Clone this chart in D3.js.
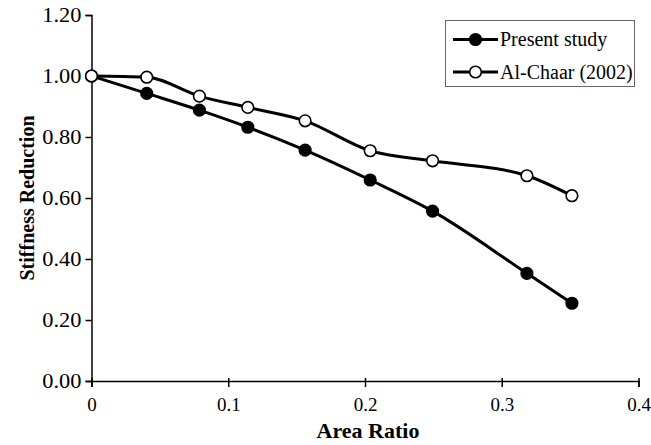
<!DOCTYPE html>
<html><head><meta charset="utf-8">
<script src="https://cdn.jsdelivr.net/npm/d3@7"></script>
<style>body{margin:0;background:#fff}svg{display:block}text{font-family:"Liberation Serif","Times New Roman",serif;fill:#000}</style>
</head><body>
<svg id="c" width="651" height="445"></svg>
<script>
const areaRatio = [0, 0.0404, 0.0789, 0.1143, 0.1562, 0.2038, 0.2494, 0.3184, 0.3513];
const presentStudy = [1.00, 0.943, 0.888, 0.832, 0.757, 0.659, 0.557, 0.353, 0.255];
const alChaar = [1.00, 0.996, 0.934, 0.897, 0.853, 0.755, 0.722, 0.673, 0.6075];
const xTicks = [0, 0.1, 0.2, 0.3, 0.4];
const yTicks = [0, 0.2, 0.4, 0.6, 0.8, 1.0, 1.2];
const seriesNames = ["Present study", "Al-Chaar (2002)"];

const svg = d3.select("#c");
const x = d3.scaleLinear().domain([0, 0.4]).range([91.5, 638.5]);
const y = d3.scaleLinear().domain([0, 1.2]).range([381, 15]);

const xAxis = svg.append("g").attr("transform", "translate(0,381)")
  .call(d3.axisBottom(x).tickValues(xTicks).tickSize(6).tickFormat(d => d === 0 ? "0" : d3.format(".1f")(d)));
const yAxis = svg.append("g").attr("transform", "translate(91.5,0)")
  .call(d3.axisLeft(y).tickValues(yTicks).tickSize(6).tickFormat(d3.format(".2f")));
[xAxis, yAxis].forEach(g => {
  g.attr("font-family", null);
  g.select(".domain").attr("stroke", "#000").attr("stroke-width", 1.5);
  g.selectAll(".tick line").attr("stroke", "#000").attr("stroke-width", 1.5);
  g.selectAll(".tick text").attr("fill", "#000");
});
xAxis.selectAll(".tick line").attr("y1", -3).attr("y2", 6);
xAxis.selectAll(".tick text").attr("dy", null).attr("y", 30).style("font-size", "19px");
yAxis.selectAll(".tick text").attr("x", -9).attr("transform", "scale(1.12,1)").style("font-size", "20px");

svg.append("text").attr("x", 368).attr("y", 438).attr("text-anchor", "middle")
  .style("font-size", "22px").attr("font-weight", "bold").text("Area Ratio");
svg.append("text").attr("transform", "translate(34,198) rotate(-90)").attr("text-anchor", "middle")
  .style("font-size", "20px").attr("font-weight", "bold").text("Stiffness Reduction");

const line = d3.line().x(d => x(d[0])).y(d => y(d[1])).curve(d3.curveMonotoneX);
const series = [presentStudy, alChaar];
series.forEach((vals, i) => {
  const pts = areaRatio.map((a, j) => [a, vals[j]]);
  svg.append("path").datum(pts).attr("d", line).attr("fill", "none").attr("stroke", "#000").attr("stroke-width", 3);
});
series.forEach((vals, i) => {
  const pts = areaRatio.map((a, j) => [a, vals[j]]);
  svg.append("g").selectAll("circle").data(pts).join("circle")
    .attr("cx", d => x(d[0])).attr("cy", d => y(d[1])).attr("r", 5.8)
    .attr("fill", i === 0 ? "#000" : "#fff").attr("stroke", "#000").attr("stroke-width", 1.6);
});

// legend
const lg = svg.append("g");
lg.append("rect").attr("x", 445.5).attr("y", 20.5).attr("width", 189).attr("height", 66)
  .attr("fill", "#fff").attr("stroke", "#666").attr("stroke-width", 1);
seriesNames.forEach((name, i) => {
  const cy = 39.5 + i * 32.5;
  lg.append("line").attr("x1", 453).attr("x2", 498).attr("y1", cy).attr("y2", cy).attr("stroke", "#000").attr("stroke-width", 3);
  lg.append("circle").attr("cx", 475.5).attr("cy", cy).attr("r", 5.8).attr("fill", i === 0 ? "#000" : "#fff").attr("stroke", "#000").attr("stroke-width", 1.6);
  lg.append("text").attr("x", 500).attr("y", cy + 6.5).style("font-size", "20px").text(name);
});
</script>
</body></html>
